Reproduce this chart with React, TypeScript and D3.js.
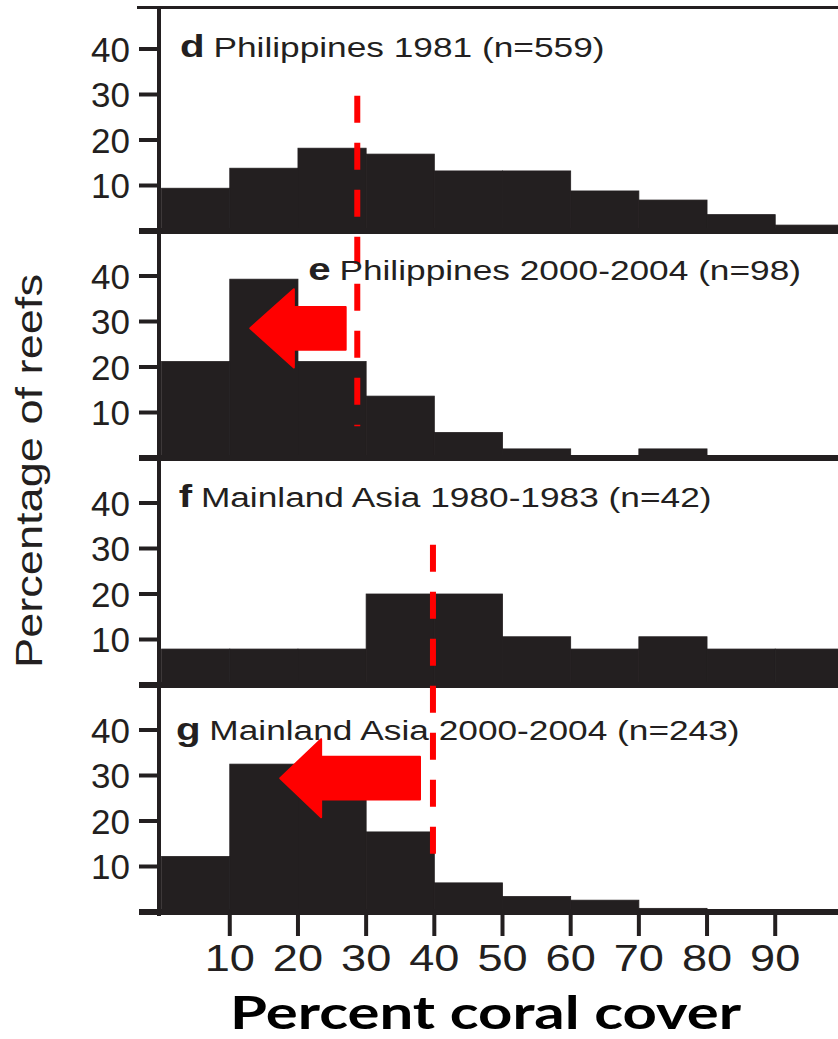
import React, { useEffect, useRef } from "react";
import * as d3 from "d3";

// Coral cover histograms, four stacked panels sharing one x axis

// bin starts (percent coral cover), every bin is 10 wide
const binStarts = [0, 10, 20, 30, 40, 50, 60, 70, 80, 90];

// percentage of reefs in each bin
const philippines1981 = [9.4, 13.8, 18.2, 16.9, 13.2, 13.2, 8.8, 6.8, 3.6, 1.3];
const philippines2000 = [21.2, 39.3, 21.2, 13.6, 5.6, 2.0, 0, 2.0, 0, 0];
const mainland1980 = [7.9, 7.9, 7.9, 20.0, 20.0, 10.6, 7.9, 10.6, 7.9, 7.9];
const mainland2000 = [12.2, 32.5, 25.5, 17.6, 6.4, 3.4, 2.6, 0.8, 0.4, 0];

const panelSeries = [philippines1981, philippines2000, mainland1980, mainland2000];
const panelLetters = ["d", "e", "f", "g"];
const panelTitles = [
  "Philippines 1981 (n=559)",
  "Philippines 2000-2004 (n=98)",
  "Mainland Asia 1980-1983 (n=42)",
  "Mainland Asia 2000-2004 (n=243)",
];

const yTicks = [10, 20, 30, 40];
const xTicks = [10, 20, 30, 40, 50, 60, 70, 80, 90];

// mean cover, one red dashed line per region (drawn across two panels)
const meanCover = [28.7, 39.8];

const W = 838;
const H = 1039;
const INK = "#231f20";
const RED = "#ff0000";
const FONT = "'Liberation Sans', Arial, Helvetica, sans-serif";

const App = () => {
  const chartRef = useRef<SVGSVGElement | null>(null);

  useEffect(() => {
    const svg = d3.select(chartRef.current);
    svg.selectAll("*").remove();

    const x = d3.scaleLinear().domain([0, 100]).range([161.6, 843.4]);
    const baseline = (i: number) => 231 + 227 * i;
    const yFor = (i: number) =>
      d3.scaleLinear().domain([0, 40]).range([baseline(i), baseline(i) - 182]);

    // bars
    panelSeries.forEach((values, i) => {
      const y = yFor(i);
      svg.append("g")
        .selectAll("rect")
        .data(binStarts.map((b, k) => ({ b, v: values[k] })).filter(d => d.v > 0))
        .enter()
        .append("rect")
        .attr("x", d => x(d.b))
        .attr("y", d => y(d.v))
        .attr("width", d => x(d.b + 10) - x(d.b))
        .attr("height", d => baseline(i) - y(d.v))
        .attr("fill", INK)
        .attr("stroke", INK)
        .attr("stroke-width", 0.8);
    });

    // frame: top border, baselines, y axis
    svg.append("line")
      .attr("x1", 137).attr("x2", W).attr("y1", 7.5).attr("y2", 7.5)
      .attr("stroke", INK).attr("stroke-width", 3);
    panelSeries.forEach((_, i) => {
      svg.append("line")
        .attr("x1", 139).attr("x2", W)
        .attr("y1", baseline(i)).attr("y2", baseline(i))
        .attr("stroke", INK).attr("stroke-width", 6);
    });
    svg.append("line")
      .attr("x1", 159).attr("x2", 159).attr("y1", 6).attr("y2", 916)
      .attr("stroke", INK).attr("stroke-width", 4);

    // y ticks and labels per panel
    panelSeries.forEach((_, i) => {
      const y = yFor(i);
      const g = svg.append("g");
      g.selectAll("line")
        .data(yTicks)
        .enter()
        .append("line")
        .attr("x1", 139).attr("x2", 159)
        .attr("y1", d => y(d)).attr("y2", d => y(d))
        .attr("stroke", INK).attr("stroke-width", 4);
      g.selectAll("text")
        .data(yTicks)
        .enter()
        .append("text")
        .attr("x", 130)
        .attr("y", d => y(d) + 12.5)
        .attr("text-anchor", "end")
        .attr("font-family", FONT)
        .attr("font-size", 35)
        .attr("fill", INK)
        .text(d => d);
    });

    // x ticks under the last panel
    const xg = svg.append("g");
    xg.selectAll("line")
      .data(xTicks)
      .enter()
      .append("line")
      .attr("x1", d => x(d)).attr("x2", d => x(d))
      .attr("y1", 912).attr("y2", 936)
      .attr("stroke", INK).attr("stroke-width", 4);
    xg.selectAll("text")
      .data(xTicks)
      .enter()
      .append("text")
      .attr("transform", d => `translate(${x(d)},971) scale(1.22,1)`)
      .attr("text-anchor", "middle")
      .attr("font-family", FONT)
      .attr("font-size", 37)
      .attr("fill", INK)
      .text(d => d);

    // red dashed mean lines, each runs from one panel into the next
    const meanSpan = [
      { top: [0, 29.7], bottom: [1, 7] },
      { top: [2, 30.8], bottom: [3, 8.6] },
    ];
    meanCover.forEach((m, k) => {
      const s = meanSpan[k];
      svg.append("line")
        .attr("x1", x(m)).attr("x2", x(m))
        .attr("y1", yFor(s.top[0])(s.top[1]))
        .attr("y2", yFor(s.bottom[0])(s.bottom[1]))
        .attr("stroke", RED)
        .attr("stroke-width", 6)
        .attr("stroke-dasharray", "27 20");
    });

    // red arrows showing the shift to lower cover
    const arrows = [
      { panel: 1, tip: 13.0, neck: 19.4, tail: 27.0, level: 28.5 },
      { panel: 3, tip: 17.4, neck: 23.4, tail: 37.9, level: 29.4 },
    ];
    arrows.forEach(a => {
      const y = yFor(a.panel);
      const pts: [number, number][] = [
        [a.tip, a.level],
        [a.neck, a.level + 8.6],
        [a.neck, a.level + 4.7],
        [a.tail, a.level + 4.7],
        [a.tail, a.level - 4.7],
        [a.neck, a.level - 4.7],
        [a.neck, a.level - 8.6],
      ];
      svg.append("polygon")
        .attr("points", pts.map(p => `${x(p[0])},${y(p[1])}`).join(" "))
        .attr("fill", RED)
        .attr("stroke", RED)
        .attr("stroke-width", 2)
        .attr("stroke-linejoin", "round");
    });

    // panel titles
    const titlePos = [
      [2.7, 38.2],
      [21.5, 39.1],
      [2.5, 39.1],
      [2.1, 37.8],
    ];
    panelTitles.forEach((t, i) => {
      const y = yFor(i);
      const text = svg.append("text")
        .attr("transform", `translate(${x(titlePos[i][0])},${y(titlePos[i][1])}) scale(1.26,1)`)
        .attr("font-family", FONT)
        .attr("fill", INK);
      text.append("tspan")
        .attr("font-size", 32)
        .attr("font-weight", "bold")
        .text(panelLetters[i]);
      text.append("tspan")
        .attr("dx", 7)
        .attr("font-size", 28)
        .text(t);
    });

    // axis titles
    svg.append("text")
      .attr("transform", "translate(42,471) rotate(-90) scale(1.22,1)")
      .attr("text-anchor", "middle")
      .attr("font-family", FONT)
      .attr("font-size", 37)
      .attr("fill", INK)
      .text("Percentage of reefs");

    svg.append("text")
      .attr("x", 485.5)
      .attr("y", 1029)
      .attr("text-anchor", "middle")
      .attr("font-family", "Lato, 'Open Sans', sans-serif")
      .attr("font-weight", "bold")
      .attr("font-size", 46)
      .attr("textLength", 511)
      .attr("lengthAdjust", "spacingAndGlyphs")
      .attr("fill", "#000")
      .text("Percent coral cover");
  }, []);

  return (
    <svg
      ref={chartRef}
      width={W}
      height={H}
      style={{ position: "absolute", left: 0, top: 0, background: "#fff", display: "block" }}
    />
  );
};

export default App;
